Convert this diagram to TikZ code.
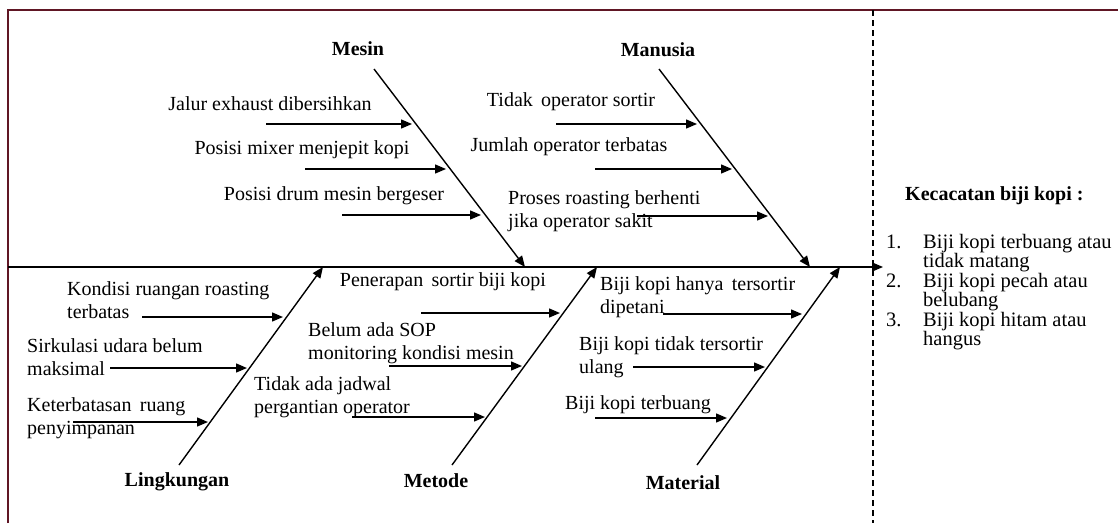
\documentclass[tikz,border=0pt]{standalone}
\usepackage{fontspec}
\setmainfont{Liberation Serif}
\usetikzlibrary{arrows.meta}

\definecolor{framered}{RGB}{96,22,36}

\begin{document}
\begin{tikzpicture}[
    x=1pt, y=-1pt,
    cause/.style={line width=1.4pt,-{Triangle[length=11pt,width=9pt]}},
    causetext/.style={inner sep=0pt,align=left,font=\fontsize{20}{23.5}\selectfont},
    category/.style={inner sep=0pt,font=\fontsize{20}{23.5}\selectfont\bfseries}
    ]

    \useasboundingbox (0,0) rectangle (1118,523);

    % frame:
    \draw[framered,line width=2.5pt] (8,523) -- (8,10) -- (1118,10);
    \draw[line width=1.5pt,dash pattern=on 6pt off 4pt] (873,10) -- (873,523);

    % spine:
    \coordinate (tail) at (8,267);
    \coordinate (head) at (883,267);
    \draw[cause] (tail) -- (head);

    % bones:
    \foreach \name/\sx/\sy/\tx in {mesin/374/69/525, manusia/659/69/810,
      lingkungan/179/465/323, metode/452/465/597, material/697/465/840}
    {
      \coordinate (\name0) at (\sx,\sy);
      \coordinate (\name1) at (\tx,267);
      \draw[cause] (\name0) -- (\name1);
    }

    % categories:
    \node[category] (mesin) at (358,49) {Mesin};
    \node[category] (manusia) at (658,50) {Manusia};
    \node[category] (lingkungan) at (177,482) {Lingkungan};
    \node[category] (metode) at (436,481) {Metode};
    \node[category] (material) at (683,483) {Material};

    % causes:
    \foreach \n/\sx/\tx/\y in {1/266/412/124, 2/305/446/169, 3/342/481/215,
      4/556/697/124, 5/595/732/169, 6/637/768/216,
      7/142/283/317, 8/110/247/368, 9/73/208/422,
      10/421/560/313, 11/389/522/366, 12/352/485/417,
      13/663/802/314, 14/633/765/367, 15/595/727/418}
    {
      \coordinate (c\n a) at (\sx,\y);
      \coordinate (c\n b) at (\tx,\y);
      \draw[cause] (c\n a) -- (c\n b);
    }

    \foreach \n/\a/\x/\y/\txt in {
      1/center/270/104/{Jalur exhaust dibersihkan},
      2/center/302/150/{Posisi mixer menjepit kopi},
      3/center/334/196/{Posisi drum mesin bergeser},
      4/center/571/102/{Tidak\, operator sortir},
      5/center/569/147/{Jumlah operator terbatas},
      6/west/508/211/{Proses roasting berhenti\\jika operator sakit},
      7/west/67/300/{Kondisi ruangan roasting\\terbatas},
      8/west/27/357/{Sirkulasi udara belum\\maksimal},
      9/west/27/418/{Keterbatasan\, ruang\\penyimpanan},
      10/center/443/282/{Penerapan\, sortir biji kopi},
      11/west/308/343/{Belum ada SOP\\monitoring kondisi mesin},
      12/west/254/397/{Tidak ada jadwal\\pergantian operator},
      13/west/600/297/{Biji kopi hanya\, tersortir\\dipetani},
      14/west/579/357/{Biji kopi tidak tersortir\\ulang},
      15/west/565/405/{Biji kopi terbuang}}
    \node[causetext,anchor=\a] (t\n) at (\x,\y) {\txt};

    % effect:
    \node[category,anchor=west] (judul) at (905,196) {Kecacatan biji kopi :};
    \node[anchor=north west,inner sep=0pt,font=\fontsize{20.5}{17.5}\selectfont] (daftar) at (886,234) {%
      \begin{tabular}{@{}p{37pt}@{}l@{}}
        1. & Biji kopi terbuang atau\\
           & tidak matang\\
        2. & Biji kopi pecah atau\\
           & belubang\\
        3. & Biji kopi hitam atau\\
           & hangus
      \end{tabular}};

\end{tikzpicture}
\end{document}
